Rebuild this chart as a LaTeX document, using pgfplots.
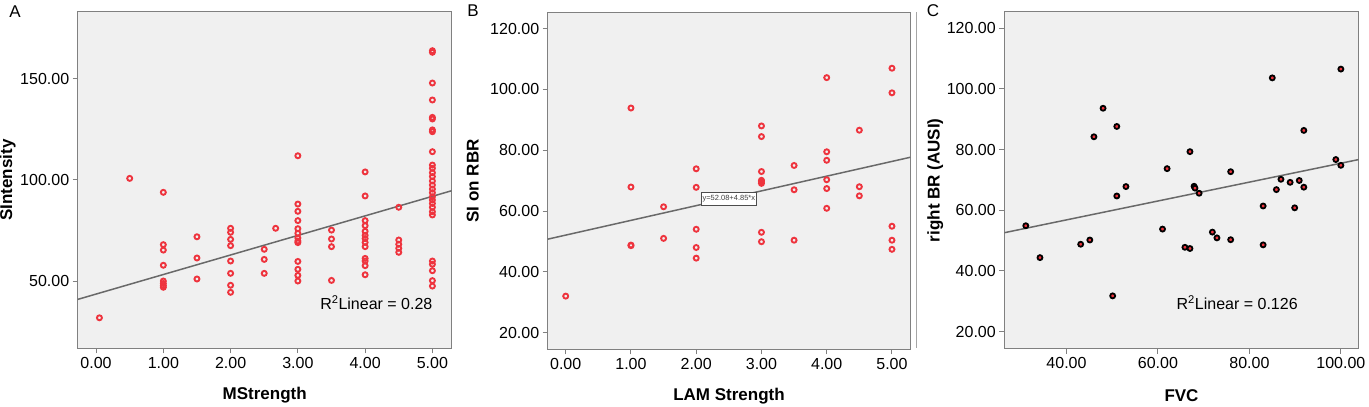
\documentclass[border=0pt]{standalone}
\usepackage{fontspec}
\setmainfont{Liberation Sans}
\usepackage{pgfplots}
\pgfplotsset{compat=1.18}

\definecolor{ptred}{RGB}{238,52,62}
\definecolor{bggray}{RGB}{240,240,240}
\definecolor{framegray}{RGB}{128,128,128}
\definecolor{fitgray}{RGB}{105,105,105}

\pgfplotsset{
  spss/.style={
    scale only axis,
    anchor=south west,
    axis background/.style={fill=bggray},
    axis line style={framegray, line width=1.4pt},
    tick style={framegray, line width=1pt},
    tick align=outside,
    major tick length=5pt,
    xtick pos=bottom, ytick pos=left,
    /pgf/number format/assume math mode=true,
    /pgf/number format/.cd, fixed, fixed zerofill, precision=2, /pgfplots/.cd,
    ticklabel style={font=\fontsize{16}{19}\selectfont},
    label style={font=\fontsize{17}{20}\selectfont\bfseries},
    xlabel style={at={([yshift=-47pt]axis description cs:0.5,0)}, anchor=center},
    ylabel style={at={([xshift=-70pt]axis description cs:0,0.5)}, anchor=center},
    scaled ticks=false,
  },
  ring/.style={only marks, mark=o, mark size=2.5pt, ptred, line width=1.9pt},
  dot/.style={only marks, mark=*, mark size=2.5pt, draw=black, fill=ptred, line width=1.8pt},
  fit/.style={no marks, fitgray, line width=1.5pt},
}

\begin{document}
\begin{tikzpicture}[x=1pt,y=1pt]
\useasboundingbox (0,0) rectangle (1369,407);

% panel letters
\node[font=\fontsize{17}{20}\selectfont] at (15,395) {A};
\node[font=\fontsize{17}{20}\selectfont] at (473,396) {B};
\node[font=\fontsize{17}{20}\selectfont] at (933,396) {C};
\draw[framegray!70, line width=0.8pt] (916,395) -- (916,59);

% ---- A ----
\begin{axis}[spss,
    at={(77.7pt,58.7pt)}, width=374pt, height=336.6pt,
    xmin=-0.273, xmax=5.287, ymin=16.7, ymax=183.3,
    xtick={0,1,2,3,4,5}, ytick={50,100,150},
    xlabel={MStrength}, ylabel={SIntensity}]
\addplot[fit] coordinates {(-0.273,40.9) (5.287,94.7)};
\addplot[ring] coordinates {
 (0.05,31.8) (0.5,100.8)
 (1,93.9) (1,68.0) (1,65.3) (1,57.8) (1,50.0) (1,48.8) (1,47.7) (1,46.9)
 (1.5,71.9) (1.5,61.4) (1.5,51.0)
 (2,76.1) (2,74.1) (2,70.6) (2,67.5) (2,59.9) (2,53.8) (2,47.9) (2,44.4)
 (2.5,65.7) (2.5,60.7) (2.5,53.8) (2.67,76.1)
 (3,112.0) (3,88.1) (3,84.5) (3,79.9) (3,75.9) (3,73.6) (3,71.3) (3,69.8) (3,69.0)
 (3,59.7) (3,55.8) (3,52.8) (3,50.0)
 (3.5,75.2) (3.5,70.8) (3.5,67.0) (3.5,50.3)
 (4,104.0) (4,92.1) (4,79.9) (4,77.4) (4,74.6) (4,72.6) (4,71.0) (4,69.1) (4,67.0)
 (4,61.2) (4,59.9) (4,57.6) (4,53.1)
 (4.5,86.5) (4.5,70.3) (4.5,68.2) (4.5,66.2) (4.5,64.2)
 (5,164.0) (5,163.2) (5,148.0) (5,139.6) (5,131.0) (5,130.2) (5,124.8) (5,123.9)
 (5,114.0) (5,107.4) (5,105.8) (5,103.6) (5,101.7) (5,99.5) (5,97.5) (5,95.5)
 (5,93.7) (5,91.7) (5,90.1) (5,88.4) (5,86.5) (5,84.3) (5,82.7)
 (5,59.9) (5,58.3) (5,55.1) (5,50.2) (5,47.5)
};
\node[anchor=west, font=\fontsize{16}{19}\selectfont, inner sep=0pt]
  at (axis cs:3.33,39.3) {R\textsuperscript{2}Linear = 0.28};
\end{axis}

% ---- B ----
\begin{axis}[spss,
    at={(547.7pt,57.7pt)}, width=362.6pt, height=337pt,
    xmin=-0.276, xmax=5.281, ymin=14.5, ymax=125.4,
    xtick={0,1,2,3,4,5}, ytick={20,40,60,80,100,120},
    xlabel={LAM Strength}, ylabel={SI on RBR},
    ylabel style={at={([xshift=-75pt]axis description cs:0,0.5)}}]
\addplot[fit] coordinates {(-0.276,50.74) (5.281,77.69)};
\addplot[ring] coordinates {
 (0,32.0)
 (1,93.9) (1,67.9) (1,48.8) (1,48.6)
 (1.5,61.4) (1.5,51.0)
 (2,73.9) (2,67.8) (2,54.0) (2,48.0) (2,44.5)
 (3,88.0) (3,84.5) (3,73.0) (3,70.1) (3,69.6) (3,69.1) (3,53.0) (3,49.9)
 (3.5,75.0) (3.5,67.0) (3.5,50.4)
 (4,103.9) (4,79.5) (4,76.7) (4,70.3) (4,67.4) (4,60.9)
 (4.5,86.6) (4.5,68.0) (4.5,65.0)
 (5,107.0) (5,98.9) (5,55.0) (5,50.4) (5,47.4)
};
\node[draw=black!70, fill=white, line width=0.6pt, font=\fontsize{7.5}{8}\selectfont,
  inner xsep=1.5pt, inner ysep=3pt, text=black!75]
  at (axis cs:2.5,64.0) {y=52.08+4.85*x};
\end{axis}

% ---- C ----
\begin{axis}[spss,
    at={(1004.3pt,58.3pt)}, width=354.4pt, height=337pt,
    xmin=26.4, xmax=103.9, ymin=14.4, ymax=125.4,
    xtick={40,60,80,100}, ytick={20,40,60,80,100,120},
    xlabel={FVC}, ylabel={right BR (AUSI)},
    ylabel style={at={([xshift=-69pt]axis description cs:0,0.5)}}]
\addplot[fit] coordinates {(26.4,52.6) (103.9,76.7)};
\addplot[dot] coordinates {
 (31.1,54.9) (34.2,44.4) (43.1,48.8) (45.1,50.2) (46.0,84.2) (48.0,93.6)
 (50.1,31.8) (51.0,87.6) (51.0,64.7) (53.0,67.8) (61.0,53.8) (62.0,73.7)
 (65.9,47.8) (67.0,47.4) (67.0,79.3) (67.9,67.9) (68.1,67.3) (69.0,65.6)
 (71.9,52.8) (72.9,50.9) (75.9,72.7) (75.9,50.3) (83.0,61.4) (83.0,48.6)
 (85.0,103.6) (85.9,66.8) (86.9,70.2) (88.9,69.2) (89.9,60.8) (90.9,69.8)
 (91.9,86.3) (91.9,67.6) (98.9,76.7) (100.0,106.5) (100.0,74.8)
};
\node[anchor=west, font=\fontsize{16}{19}\selectfont, inner sep=0pt]
  at (axis cs:64.05,29.5) {R\textsuperscript{2}Linear = 0.126};
\end{axis}
\end{tikzpicture}
\end{document}
